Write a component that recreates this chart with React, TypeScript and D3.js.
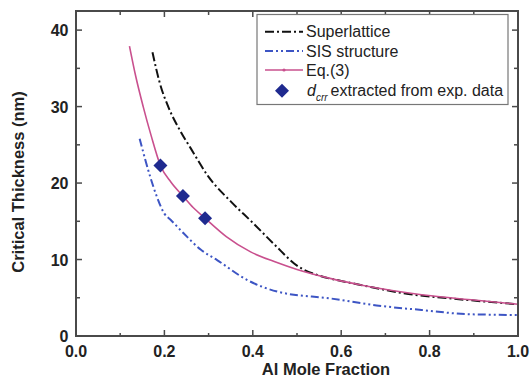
import React from "react";
import * as d3 from "d3";

const eqX = [0.121, 0.135, 0.152, 0.17, 0.191, 0.215, 0.242, 0.265, 0.292, 0.34, 0.395, 0.45, 0.5, 0.577, 0.65, 0.782, 0.9, 1.0];
const eqY = [37.9, 34.0, 30.0, 26.2, 22.3, 20.1, 18.3, 16.8, 15.4, 13.0, 11.0, 9.7, 8.7, 7.5, 6.6, 5.4, 4.7, 4.15];

const slX = [0.173, 0.19, 0.21, 0.236, 0.26, 0.3, 0.35, 0.4, 0.45, 0.5, 0.55, 0.6, 0.65, 0.752, 0.85, 1.0];
const slY = [37.1, 33.0, 29.8, 26.8, 24.5, 20.8, 17.6, 14.8, 11.9, 9.2, 7.9, 7.2, 6.6, 5.5, 4.9, 4.15];

const sisX = [0.144, 0.168, 0.183, 0.2, 0.214, 0.244, 0.282, 0.32, 0.388, 0.456, 0.577, 0.68, 0.782, 0.888, 1.0];
const sisY = [25.8, 20.8, 18.2, 16.0, 15.2, 13.4, 11.3, 9.9, 7.3, 5.8, 4.9, 4.0, 3.4, 2.85, 2.75];

const expX = [0.191, 0.242, 0.292];
const expY = [22.3, 18.3, 15.4];

const xTicks = [0, 0.2, 0.4, 0.6, 0.8, 1.0];
const xMinor = [0.1, 0.3, 0.5, 0.7, 0.9];
const yTicks = [0, 10, 20, 30, 40];
const yMinor = [5, 15, 25, 35];

const legendLabels = ["Superlattice", "SIS structure", "Eq.(3)"];

const L = 76, R = 518, T = 11, B = 336;
const FONT = "'Liberation Sans', Arial, sans-serif";

export default function App() {
  const x = d3.scaleLinear().domain([0, 1]).range([L, R]);
  const y = d3.scaleLinear().domain([0, 42.5]).range([B, T]);
  const line = (xs: number[], ys: number[]) =>
    d3.line<number>().x((_, i) => x(xs[i])).y((_, i) => y(ys[i])).curve(d3.curveMonotoneX)(xs) || "";

  const axisColor = "#4a4a4a";
  const pink = "#c9508e";
  const blue = "#3d55c4";
  const navy = "#1f2a8f";
  const diamond = (cx: number, cy: number, r: number) =>
    `M${cx},${cy - r}L${cx + r},${cy}L${cx},${cy + r}L${cx - r},${cy}Z`;

  const legY = [31.7, 51, 70, 90.7];

  return (
    <svg width={531} height={378} style={{ position: "absolute", left: 0, top: 0, background: "#fff" }}>
      {/* curves */}
      <path d={line(slX, slY)} fill="none" stroke="#111" strokeWidth={2} strokeDasharray="9,3,2,3" />
      <path d={line(sisX, sisY)} fill="none" stroke={blue} strokeWidth={2} strokeDasharray="8,3,2,3,2,3" />
      <path d={line(eqX, eqY)} fill="none" stroke={pink} strokeWidth={1.6} />
      {expX.map((v, i) => (
        <path key={i} d={diamond(x(v), y(expY[i]), 7)} fill={navy} />
      ))}

      {/* frame */}
      <rect x={L} y={T} width={R - L} height={B - T} fill="none" stroke={axisColor} strokeWidth={2} />
      {xTicks.map((t) => (
        <g key={"xt" + t}>
          <line x1={x(t)} x2={x(t)} y1={B} y2={B - 6} stroke={axisColor} strokeWidth={1.5} />
          <line x1={x(t)} x2={x(t)} y1={T} y2={T + 6} stroke={axisColor} strokeWidth={1.5} />
          <text x={x(t)} y={357} textAnchor="middle" fontFamily={FONT} fontWeight="bold" fontSize={16} fill="#222">
            {t.toFixed(1)}
          </text>
        </g>
      ))}
      {xMinor.map((t) => (
        <g key={"xm" + t}>
          <line x1={x(t)} x2={x(t)} y1={B} y2={B - 3} stroke={axisColor} strokeWidth={1.5} />
          <line x1={x(t)} x2={x(t)} y1={T} y2={T + 4} stroke={axisColor} strokeWidth={1.5} />
        </g>
      ))}
      {yTicks.map((t) => (
        <g key={"yt" + t}>
          <line x1={L} x2={L + 6} y1={y(t)} y2={y(t)} stroke={axisColor} strokeWidth={1.5} />
          <line x1={R} x2={R - 6} y1={y(t)} y2={y(t)} stroke={axisColor} strokeWidth={1.5} />
          <text x={68.5} y={y(t) + 6} textAnchor="end" fontFamily={FONT} fontWeight="bold" fontSize={16} fill="#222">
            {t}
          </text>
        </g>
      ))}
      {yMinor.map((t) => (
        <g key={"ym" + t}>
          <line x1={L} x2={L + 4} y1={y(t)} y2={y(t)} stroke={axisColor} strokeWidth={1.5} />
          <line x1={R} x2={R - 4} y1={y(t)} y2={y(t)} stroke={axisColor} strokeWidth={1.5} />
        </g>
      ))}

      {/* axis titles */}
      <text x={326} y={375} textAnchor="middle" fontFamily={FONT} fontWeight="bold" fontSize={16.5} fill="#222">
        Al Mole Fraction
      </text>
      <text transform="translate(24,182) rotate(-90)" textAnchor="middle" fontFamily={FONT} fontWeight="bold" fontSize={16.5} fill="#222">
        Critical Thickness (nm)
      </text>

      {/* legend */}
      <rect x={257} y={14.5} width={251} height={90} fill="#fff" stroke="#777" strokeWidth={1.2} />
      <line x1={265} x2={303} y1={legY[0]} y2={legY[0]} stroke="#111" strokeWidth={2} strokeDasharray="9,3,2,3" />
      <line x1={265} x2={303} y1={legY[1]} y2={legY[1]} stroke={blue} strokeWidth={2} strokeDasharray="8,3,2,3,2,3" />
      <line x1={265} x2={303} y1={legY[2]} y2={legY[2]} stroke={pink} strokeWidth={1.6} />
      <circle cx={284} cy={legY[2]} r={1.6} fill={pink} />
      <path d={diamond(282, legY[3], 7)} fill={navy} />
      {legendLabels.map((s, i) => (
        <text key={s} x={306} y={legY[i] + 5.5} fontFamily={FONT} fontSize={16} fill="#222">
          {s}
        </text>
      ))}
      <text x={307} y={legY[3] + 5.5} fontFamily={FONT} fontSize={16} fill="#222">
        <tspan fontStyle="italic">d</tspan>
        <tspan fontStyle="italic" fontSize={10} dy={5}>crr</tspan>
        <tspan dy={-5} dx={3}>extracted from exp. data</tspan>
      </text>
    </svg>
  );
}
